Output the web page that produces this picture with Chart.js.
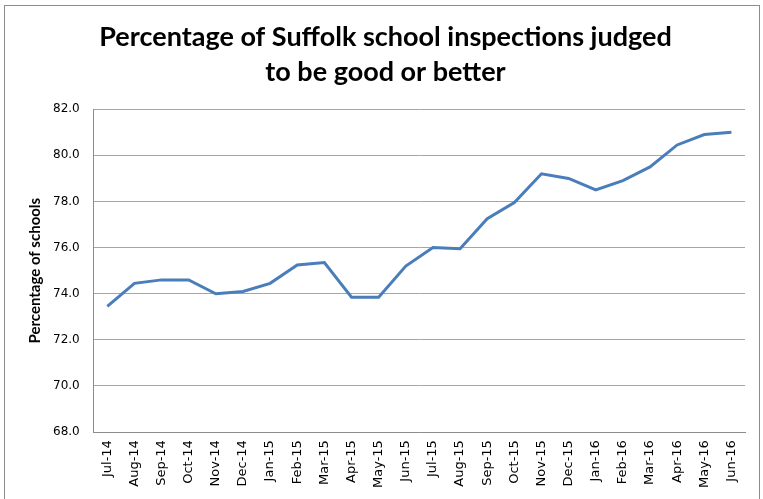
<!DOCTYPE html>
<html>
<head>
<meta charset="utf-8">
<script src="https://cdn.jsdelivr.net/npm/chart.js@4.4.0/dist/chart.umd.min.js"></script>
<style>
  html, body { margin: 0; padding: 0; background: #ffffff; }
  #wrap { position: relative; width: 763px; height: 499px; overflow: hidden; }
  #frame { position: absolute; left: 4px; top: 5px; width: 756px; height: 510px;
           border: 1px solid #8c8c8c; box-sizing: border-box; pointer-events: none; }
  canvas { position: absolute; left: 0; top: 0; }
</style>
</head>
<body>
<div id="wrap">
  <canvas id="inspChart" width="763" height="499"></canvas>
  <div id="frame"></div>
</div>
<script>
// Dados
const meses = ['Jul-14', 'Aug-14', 'Sep-14', 'Oct-14', 'Nov-14', 'Dec-14', 'Jan-15', 'Feb-15',
  'Mar-15', 'Apr-15', 'May-15', 'Jun-15', 'Jul-15', 'Aug-15', 'Sep-15', 'Oct-15',
  'Nov-15', 'Dec-15', 'Jan-16', 'Feb-16', 'Mar-16', 'Apr-16', 'May-16', 'Jun-16'];
const percentual = [73.45, 74.45, 74.6, 74.6, 74.0, 74.1, 74.45, 75.25,
  75.35, 73.85, 73.85, 75.2, 76.0, 75.95, 77.25, 77.95,
  79.2, 79.0, 78.5, 78.9, 79.5, 80.45, 80.9, 81.0];
const yMin = 68;
const yMax = 82;
const yStep = 2;

const tituloLinhas = ['Percentage of Suffolk school inspections judged', 'to be good or better'];
const tituloEixoY = 'Percentage of schools';

function renderChart() {
  const ctx = document.getElementById('inspChart').getContext('2d');

  new Chart(ctx, {
    type: 'line',
    data: {
      labels: meses,
      datasets: [{
        data: percentual,
        borderColor: '#4a7ebb',
        borderWidth: 3,
        pointRadius: 0,
        fill: false,
        tension: 0
      }]
    },
    options: {
      responsive: false,
      animation: false,
      devicePixelRatio: 1,
      layout: { padding: { left: 26, right: 18, top: 10, bottom: 3 } },
      plugins: {
        legend: { display: false },
        tooltip: { enabled: false },
        title: {
          display: true,
          text: tituloLinhas,
          color: '#000000',
          font: { family: 'Lato', size: 27, weight: 'bold', lineHeight: 1.3 },
          padding: { top: 10, bottom: 19 }
        }
      },
      scales: {
        x: {
          offset: true,
          grid: { display: false, drawTicks: false },
          border: { display: true, color: '#8c8c8c', width: 1 },
          ticks: {
            color: '#000000',
            font: { family: 'DejaVu Sans', size: 13 },
            minRotation: 90,
            maxRotation: 90,
            autoSkip: false,
            padding: 8
          }
        },
        y: {
          min: yMin,
          max: yMax,
          grid: { color: '#a6a6a6', lineWidth: 1, drawTicks: false },
          border: { display: true, color: '#8c8c8c', width: 1 },
          ticks: {
            stepSize: yStep,
            color: '#000000',
            font: { family: 'DejaVu Sans', size: 12 },
            padding: 14,
            callback: function (value) { return value.toFixed(1); }
          },
          title: {
            display: true,
            text: tituloEixoY,
            color: '#000000',
            font: { family: 'Lato', size: 15, weight: 'bold', lineHeight: 1.2 },
            padding: { top: 0, bottom: -5 }
          }
        }
      }
    }
  });
}

document.addEventListener('DOMContentLoaded', renderChart);
</script>
</body>
</html>
